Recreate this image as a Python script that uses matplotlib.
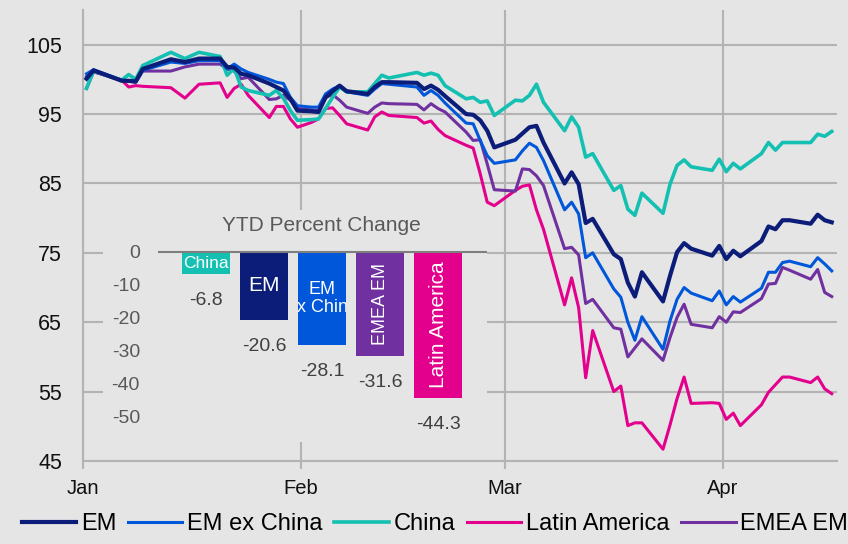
import matplotlib
matplotlib.use("Agg")
import matplotlib.pyplot as plt
import matplotlib.dates as mdates
import pandas as pd

plt.rcParams['font.family'] = ['Liberation Sans', 'DejaVu Sans']
plt.rcParams['axes.unicode_minus'] = False

# ------------------ Data -----------------

dates = [
    "2020-01-01", "2020-01-02", "2020-01-06", "2020-01-07", "2020-01-08", "2020-01-09",
    "2020-01-13", "2020-01-15", "2020-01-17", "2020-01-20", "2020-01-21", "2020-01-22",
    "2020-01-23", "2020-01-24", "2020-01-27", "2020-01-28", "2020-01-29", "2020-01-30",
    "2020-01-31", "2020-02-02", "2020-02-03", "2020-02-04", "2020-02-05", "2020-02-06",
    "2020-02-07", "2020-02-10", "2020-02-11", "2020-02-12", "2020-02-13", "2020-02-17",
    "2020-02-18", "2020-02-19", "2020-02-20", "2020-02-21", "2020-02-24", "2020-02-25",
    "2020-02-26", "2020-02-27", "2020-02-28", "2020-03-02", "2020-03-03", "2020-03-04",
    "2020-03-05", "2020-03-06", "2020-03-09", "2020-03-10", "2020-03-11", "2020-03-12",
    "2020-03-13", "2020-03-16", "2020-03-17", "2020-03-18", "2020-03-19", "2020-03-20",
    "2020-03-23", "2020-03-24", "2020-03-25", "2020-03-26", "2020-03-27", "2020-03-30",
    "2020-03-31", "2020-04-01", "2020-04-02", "2020-04-03", "2020-04-06", "2020-04-07",
    "2020-04-08", "2020-04-09", "2020-04-10", "2020-04-13", "2020-04-14", "2020-04-15",
    "2020-04-16",
]

em = [100.1, 101.3, 99.8, 99.8, 99.7, 101.5, 102.9, 102.5, 103.0, 103.0,
      101.8, 101.7, 100.8, 100.6, 99.4, 98.9, 98.4, 97.2, 95.5, 95.4,
      95.3, 97.4, 98.3, 99.1, 98.3, 97.9, 98.9, 99.6, 99.6, 99.5,
      98.6, 99.1, 98.5, 97.6, 95.0, 94.9, 94.1, 92.6, 90.2, 91.3,
      92.2, 93.1, 93.3, 90.9, 85.0, 86.6, 84.9, 79.3, 79.9, 74.8,
      74.1, 70.7, 68.7, 72.2, 68.0, 71.7, 75.1, 76.4, 75.6, 74.6,
      76.0, 74.1, 75.3, 74.5, 76.7, 78.8, 78.4, 79.7, 79.7, 79.2,
      80.5, 79.7, 79.4]

em_ex_china = [100.8, 101.4, 99.9, 99.8, 99.6, 101.3, 102.5, 102.3, 102.7, 102.7,
               101.5, 102.2, 101.5, 101.0, 100.0, 99.6, 99.4, 97.4, 96.2, 96.0,
               96.0, 97.9, 98.6, 99.1, 98.2, 97.7, 98.6, 99.4, 99.3, 98.9,
               97.7, 98.4, 97.7, 96.6, 93.7, 93.6, 91.2, 89.0, 87.9, 88.4,
               89.7, 90.8, 90.2, 88.3, 81.2, 82.3, 80.6, 74.3, 75.0, 69.8,
               68.6, 65.0, 62.4, 65.8, 61.1, 65.2, 68.3, 70.0, 69.2, 68.1,
               69.5, 67.5, 68.7, 67.9, 69.9, 72.2, 72.2, 73.6, 73.8, 73.0,
               74.3, 73.4, 72.4]

china = [98.7, 101.2, 99.9, 100.7, 100.0, 102.0, 103.9, 103.0, 103.9, 103.3,
         100.6, 101.6, 98.9, 98.4, 97.7, 98.4, 97.3, 95.5, 94.1, 94.2,
         94.3, 95.8, 97.4, 98.9, 98.2, 98.2, 99.4, 100.6, 100.2, 101.0,
         100.6, 100.9, 100.6, 99.1, 97.2, 97.4, 96.7, 96.9, 94.8, 97.0,
         96.9, 97.7, 99.3, 96.7, 92.6, 94.6, 93.1, 88.8, 89.3, 84.0,
         84.7, 81.3, 80.4, 83.6, 80.7, 84.9, 87.6, 88.4, 87.4, 86.9,
         88.5, 86.7, 87.9, 87.1, 89.3, 90.9, 89.8, 90.9, 90.9, 90.9,
         92.1, 91.8, 92.5]

latin_america = [98.7, 101.1, 99.9, 98.9, 99.1, 99.0, 98.8, 97.3, 99.3, 99.5,
                 97.4, 98.7, 99.3, 97.7, 94.5, 96.1, 96.1, 94.3, 93.1, 93.8,
                 94.3, 95.8, 95.9, 94.8, 93.6, 92.7, 94.6, 95.3, 94.8, 94.5,
                 93.7, 94.0, 92.8, 91.9, 90.5, 90.1, 86.4, 82.3, 81.8, 84.0,
                 84.6, 84.8, 81.2, 78.4, 67.5, 71.4, 67.1, 57.0, 63.8, 55.0,
                 55.8, 50.1, 50.5, 50.5, 46.7, 50.2, 54.0, 57.1, 53.3, 53.4,
                 53.3, 51.0, 51.9, 50.1, 53.1, 54.9, 56.0, 57.1, 57.1, 56.3,
                 57.1, 55.4, 54.7]

emea_em = [100.4, 101.1, 99.9, 99.7, 99.6, 101.2, 101.2, 101.8, 102.2, 102.2,
           101.5, 101.2, 100.1, 100.3, 97.1, 97.2, 97.7, 97.0, 95.8, 95.6,
           95.5, 97.4, 97.8, 97.0, 96.0, 95.1, 96.0, 96.6, 96.5, 96.4,
           95.6, 96.5, 95.8, 95.3, 92.4, 91.2, 91.3, 87.8, 84.1, 83.9,
           87.1, 87.0, 86.1, 84.7, 75.6, 75.8, 74.7, 67.7, 68.3, 64.2,
           64.0, 60.0, 61.3, 62.6, 59.5, 62.8, 65.7, 67.6, 64.7, 64.2,
           65.8, 65.0, 66.5, 66.4, 68.4, 70.5, 70.6, 72.9, 72.5, 71.2,
           72.6, 69.3, 68.7]

ytd_categories = ["China", "EM", "EM ex China", "EMEA EM", "Latin America"]
ytd_values = [-6.8, -20.6, -28.1, -31.6, -44.3]
ytd_bar_text = ["China", "EM", "EM\nex China", "EMEA EM", "Latin America"]

# -------------------- Styles ----------------------

bg_color = "#e5e5e5"
grid_color = "#b3b3b3"
colors = {
    "EM": "#0b1d78",
    "EM ex China": "#0057d9",
    "China": "#14c0b1",
    "Latin America": "#e3008c",
    "EMEA EM": "#7030a0",
}

# --------------------- Figure ---------------------

fig = plt.figure(figsize=(8.48, 5.44), dpi=100, facecolor=bg_color)
ax = fig.add_axes([83 / 848, 1 - 461 / 544, 754 / 848, 451 / 544])
ax.set_facecolor(bg_color)

x = pd.to_datetime(dates) + pd.Timedelta(hours=12)

series = [
    ("EM", em, 3.0, 6),
    ("EM ex China", em_ex_china, 2.2, 5),
    ("China", china, 2.6, 4),
    ("Latin America", latin_america, 2.2, 2),
    ("EMEA EM", emea_em, 2.2, 3),
]
handles = []
for name, vals, lw, z in series:
    line, = ax.plot(x, vals, color=colors[name], lw=lw, zorder=z, label=name)
    handles.append(line)

ax.set_ylim(45, 110)
ax.set_yticks([45, 55, 65, 75, 85, 95, 105])
ax.set_xlim(pd.Timestamp("2020-01-01"), pd.Timestamp("2020-04-17 06:00"))
ax.xaxis.set_major_locator(mdates.MonthLocator())
ax.xaxis.set_major_formatter(mdates.DateFormatter("%b"))

ax.grid(True, color=grid_color, lw=1.5)
ax.set_axisbelow(True)
for side in ["top", "right"]:
    ax.spines[side].set_visible(False)
for side in ["left", "bottom"]:
    ax.spines[side].set_color(grid_color)
    ax.spines[side].set_linewidth(1.5)

ax.tick_params(axis="y", length=0, pad=15, labelsize=15.5, labelcolor="#111111")
ax.tick_params(axis="x", length=6, width=1.5, color=grid_color, pad=7,
               labelsize=14.5, labelcolor="#111111")

# ------------------ Inset bar chart ---------------

bgax = fig.add_axes([103 / 848, 1 - 442 / 544, 384 / 848, 232 / 544])
bgax.set_facecolor(bg_color)
bgax.set_xticks([])
bgax.set_yticks([])
for s in bgax.spines.values():
    s.set_visible(False)

ax2 = fig.add_axes([158 / 848, 1 - 442 / 544, 329 / 848, 232 / 544])
ax2.set_facecolor("none")
pos = list(range(len(ytd_categories)))
bars = ax2.bar(pos, ytd_values, width=0.83,
               color=[colors[c] for c in ytd_categories], zorder=2)
ax2.axhline(0, color="#7f7f7f", lw=1.5, zorder=3)
ax2.set_xlim(-0.83, 4.84)
ax2.set_ylim(-57.6, 12.7)
ax2.set_yticks([0, -10, -20, -30, -40, -50])
ax2.set_xticks([])
ax2.tick_params(axis="y", length=0, pad=13, labelsize=14, labelcolor="#595959")
for s in ax2.spines.values():
    s.set_visible(False)

ax2.text(0.498, 0.935, "YTD Percent Change", transform=ax2.transAxes,
         ha="center", va="center", fontsize=15, color="#595959")

inner_sizes = [12.5, 15, 13, 13, 15]
inner_rot = [0, 0, 0, 90, 90]
for bar, val, txt, fs, rot in zip(bars, ytd_values, ytd_bar_text, inner_sizes, inner_rot):
    cx = bar.get_x() + bar.get_width() / 2
    t = ax2.text(cx, val / 2, txt, ha="center", va="center", color="white",
                 fontsize=fs, rotation=rot, linespacing=1.1, zorder=4)
    t.set_clip_on(True)
    t.set_clip_path(bar)
    ax2.annotate("{:.1f}".format(val), (cx, val), xytext=(0, -19),
                 textcoords="offset points", ha="center", va="center",
                 fontsize=14, color="#404040")

# --------------------- Legend ---------------------

fig.legend(handles, [h.get_label() for h in handles], loc="center",
           bbox_to_anchor=(435 / 848, 1 - 524 / 544), ncol=5, frameon=False,
           fontsize=17, handlelength=2.3, handletextpad=0.2,
           columnspacing=0.5, borderaxespad=0, borderpad=0)

fig.savefig("out.png", dpi=100, facecolor=fig.get_facecolor())
